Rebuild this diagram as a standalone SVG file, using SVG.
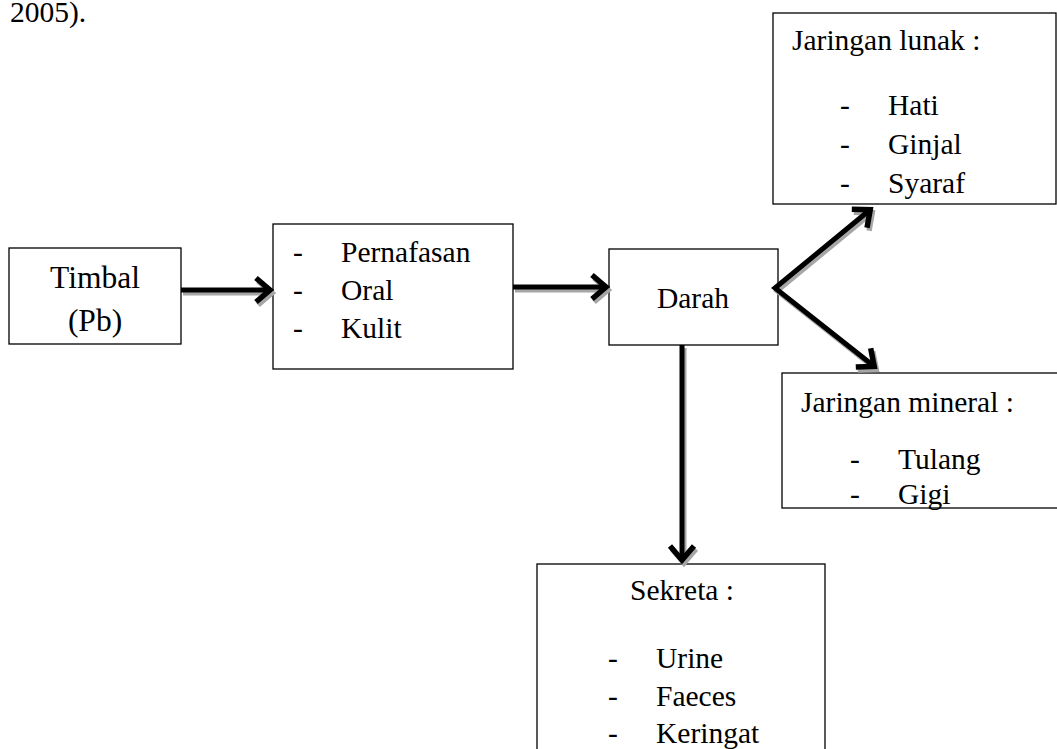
<svg xmlns="http://www.w3.org/2000/svg" width="1057" height="749" viewBox="0 0 1057 749">
<style>
text{font-family:"Liberation Serif","Times New Roman",serif;font-size:29.5px;fill:#000}
.big{font-size:31.5px}
.box{fill:#fff;stroke:#000;stroke-width:1.3}
.c{text-anchor:middle}
.arr{fill:none;stroke:#000;stroke-width:5}
.sh{fill:none;stroke:#a6a6a6;stroke-width:5}
</style>
<defs>
<marker id="hb" markerUnits="userSpaceOnUse" markerWidth="40" markerHeight="40" refX="0" refY="0" orient="auto-start-reverse" overflow="visible"><path d="M-15,-12 L-1,0 L-15,12" fill="none" stroke="#000" stroke-width="5.5"/></marker>
<marker id="hs" markerUnits="userSpaceOnUse" markerWidth="40" markerHeight="40" refX="0" refY="0" orient="auto-start-reverse" overflow="visible"><path d="M-15,-12 L-1,0 L-15,12" fill="none" stroke="#a6a6a6" stroke-width="5.5"/></marker>
</defs>
<rect width="1057" height="749" fill="#fff"/>
<text x="10" y="22">2005).</text>
<g id="timbal"><rect class="box" x="9" y="248" width="172" height="96"/><text class="c big" x="95" y="288">Timbal</text><text class="c big" x="95" y="331">(Pb)</text></g>
<g id="jalur"><rect class="box" x="273" y="224" width="240" height="145"/>
<text x="293" y="262">-</text><text x="341" y="262">Pernafasan</text>
<text x="293" y="300">-</text><text x="341" y="300">Oral</text>
<text x="293" y="338">-</text><text x="341" y="338">Kulit</text></g>
<g id="darah"><rect class="box" x="609" y="249" width="169" height="96"/><text class="c" x="693" y="308">Darah</text></g>
<g id="lunak"><rect class="box" x="773" y="13" width="283" height="191"/>
<text x="792" y="50">Jaringan lunak :</text>
<text x="840" y="115">-</text><text x="888" y="115">Hati</text>
<text x="840" y="154">-</text><text x="888" y="154">Ginjal</text>
<text x="840" y="193">-</text><text x="888" y="193">Syaraf</text></g>
<g id="mineral"><rect class="box" x="782" y="373" width="280" height="135"/>
<text x="801" y="412">Jaringan mineral :</text>
<text x="850" y="469">-</text><text x="898" y="469">Tulang</text>
<text x="850" y="504">-</text><text x="898" y="504">Gigi</text></g>
<g id="sekreta"><rect class="box" x="537" y="564" width="288" height="200"/>
<text class="c" x="682" y="600">Sekreta :</text>
<text x="608" y="668">-</text><text x="656" y="668">Urine</text>
<text x="608" y="706">-</text><text x="656" y="706">Faeces</text>
<text x="608" y="743">-</text><text x="656" y="743">Keringat</text></g>
<g id="connectors">
<g transform="translate(2,3)">
<path class="sh" d="M181,290 L271,290" marker-end="url(#hs)"/>
<path class="sh" d="M513,287 L607,287" marker-end="url(#hs)"/>
<path class="sh" d="M871,209 L775,288 L875,367" marker-start="url(#hs)" marker-end="url(#hs)"/>
<path class="sh" d="M682,345 L682,561" marker-end="url(#hs)"/>
</g>
<path class="arr" d="M181,290 L271,290" marker-end="url(#hb)"/>
<path class="arr" d="M513,287 L607,287" marker-end="url(#hb)"/>
<path class="arr" d="M871,209 L775,288 L875,367" marker-start="url(#hb)" marker-end="url(#hb)"/>
<path class="arr" d="M682,345 L682,561" marker-end="url(#hb)"/>
</g>
</svg>
